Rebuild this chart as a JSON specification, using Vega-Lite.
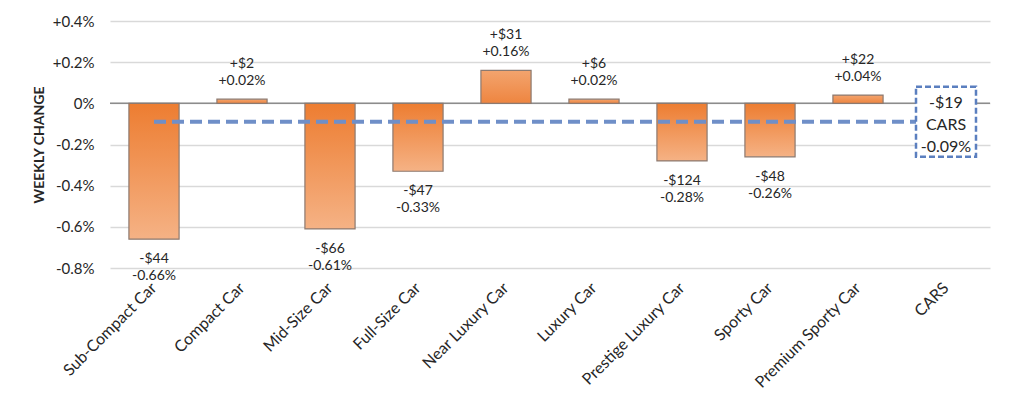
{
  "$schema": "https://vega.github.io/schema/vega-lite/v6.json",
  "width": 880,
  "height": 247,
  "autosize": "none",
  "padding": {"left": 110, "top": 21, "right": 34, "bottom": 131},
  "background": "white",
  "config": {
    "view": {"stroke": null},
    "font": "Lato",
    "text": {"font": "Lato", "color": "#262626"}
  },
  "datasets": {
    "cats": [
      {"cat": "Sub-Compact Car", "v": -0.66, "label": "-$44\n-0.66%"},
      {"cat": "Compact Car", "v": 0.02, "label": "+$2\n+0.02%"},
      {"cat": "Mid-Size Car", "v": -0.61, "label": "-$66\n-0.61%"},
      {"cat": "Full-Size Car", "v": -0.33, "label": "-$47\n-0.33%"},
      {"cat": "Near Luxury Car", "v": 0.16, "label": "+$31\n+0.16%"},
      {"cat": "Luxury Car", "v": 0.02, "label": "+$6\n+0.02%"},
      {"cat": "Prestige Luxury Car", "v": -0.28, "label": "-$124\n-0.28%"},
      {"cat": "Sporty Car", "v": -0.26, "label": "-$48\n-0.26%"},
      {"cat": "Premium Sporty Car", "v": 0.04, "label": "+$22\n+0.04%"}
    ],
    "total": [
      {"cat": "CARS", "from": "Sub-Compact Car", "v": -0.09, "label": "-$19\nCARS\n-0.09%"}
    ]
  },
  "encoding": {
    "x": {
      "field": "cat",
      "type": "nominal",
      "sort": null,
      "scale": {
        "domain": ["Sub-Compact Car", "Compact Car", "Mid-Size Car", "Full-Size Car", "Near Luxury Car", "Luxury Car", "Prestige Luxury Car", "Sporty Car", "Premium Sporty Car", "CARS"],
        "paddingInner": 0.43,
        "paddingOuter": 0.215
      },
      "axis": {
        "title": null,
        "labelAngle": -45,
        "labelAlign": "right",
        "labelBaseline": "middle",
        "labelPadding": 17,
        "labelFontSize": 16,
        "labelFont": "Lato",
        "labelColor": "#262626",
        "ticks": false,
        "domain": false,
        "grid": false
      }
    }
  },
  "layer": [
    {
      "data": {"name": "cats"},
      "mark": {"type": "rule", "color": "#D9D9D9", "strokeWidth": 0, "opacity": 0},
      "encoding": {
        "y": {
          "field": "v",
          "type": "quantitative",
          "scale": {"domain": [-0.8, 0.4], "nice": false, "zero": false},
          "axis": {
            "title": "WEEKLY CHANGE",
            "titleFont": "Lato",
            "titleFontSize": 14,
            "titleFontWeight": "bold",
            "titleColor": "#262626",
            "titlePadding": 6,
            "values": [-0.8, -0.6, -0.4, -0.2, 0, 0.2, 0.4],
            "labelExpr": "datum.value == 0 ? '0%' : (datum.value < 0 ? '-' : '+') + format(abs(datum.value), '.1f') + '%'",
            "labelFontSize": 15,
            "labelFont": "Lato",
            "labelColor": "#262626",
            "labelPadding": 16,
            "ticks": false,
            "domain": false,
            "grid": true,
            "gridColor": "#D9D9D9",
            "gridWidth": 1.5
          }
        }
      }
    },
    {
      "data": {"values": [{"z": 0}]},
      "mark": {"type": "rule", "color": "#8C8C8C", "strokeWidth": 1.5},
      "encoding": {"y": {"field": "z", "type": "quantitative"}, "x": null}
    },
    {
      "data": {"name": "cats"},
      "transform": [{"filter": "datum.v < 0"}],
      "mark": {
        "type": "bar",
        "stroke": "#8C7A70",
        "strokeWidth": 1.2,
        "fill": {
          "x1": 0, "y1": 0, "x2": 0, "y2": 1,
          "gradient": "linear",
          "stops": [{"offset": 0, "color": "#ED7D31"}, {"offset": 1, "color": "#F5B285"}]
        }
      },
      "encoding": {"y": {"field": "v", "type": "quantitative"}}
    },
    {
      "data": {"name": "cats"},
      "transform": [{"filter": "datum.v >= 0"}],
      "mark": {
        "type": "bar",
        "stroke": "#8C7A70",
        "strokeWidth": 1.2,
        "fill": {
          "x1": 0, "y1": 1, "x2": 0, "y2": 0,
          "gradient": "linear",
          "stops": [{"offset": 0, "color": "#EE8540"}, {"offset": 1, "color": "#F3A46E"}]
        }
      },
      "encoding": {"y": {"field": "v", "type": "quantitative"}}
    },
    {
      "data": {"name": "total"},
      "mark": {"type": "rule", "color": "#6F8FC8", "strokeWidth": 4, "strokeDash": [12, 6]},
      "encoding": {
        "x": {"field": "from", "type": "nominal"},
        "x2": {"field": "cat"},
        "y": {"field": "v", "type": "quantitative"}
      }
    },
    {
      "data": {"name": "total"},
      "mark": {
        "type": "point",
        "shape": "M-0.857,-1H0.857V1H-0.857Z",
        "size": 4900,
        "filled": false,
        "fill": "white",
        "fillOpacity": 1,
        "stroke": "#5B7FBF",
        "strokeWidth": 2.5,
        "strokeDash": [6, 3],
        "opacity": 1
      },
      "encoding": {"y": {"field": "v", "type": "quantitative"}}
    },
    {
      "data": {"name": "total"},
      "mark": {"type": "text", "fontSize": 16, "lineBreak": "\n", "lineHeight": 22, "baseline": "middle", "align": "center", "dy": -19},
      "encoding": {"y": {"field": "v", "type": "quantitative"}, "text": {"field": "label"}}
    },
    {
      "data": {"name": "cats"},
      "transform": [{"filter": "datum.v < 0"}],
      "mark": {"type": "text", "fontSize": 14, "lineBreak": "\n", "lineHeight": 17, "baseline": "top", "align": "center", "dy": 13},
      "encoding": {"y": {"field": "v", "type": "quantitative"}, "text": {"field": "label"}}
    },
    {
      "data": {"name": "cats"},
      "transform": [{"filter": "datum.v >= 0"}],
      "mark": {"type": "text", "fontSize": 14, "lineBreak": "\n", "lineHeight": 17, "baseline": "bottom", "align": "center", "dy": -28},
      "encoding": {"y": {"field": "v", "type": "quantitative"}, "text": {"field": "label"}}
    }
  ]
}
